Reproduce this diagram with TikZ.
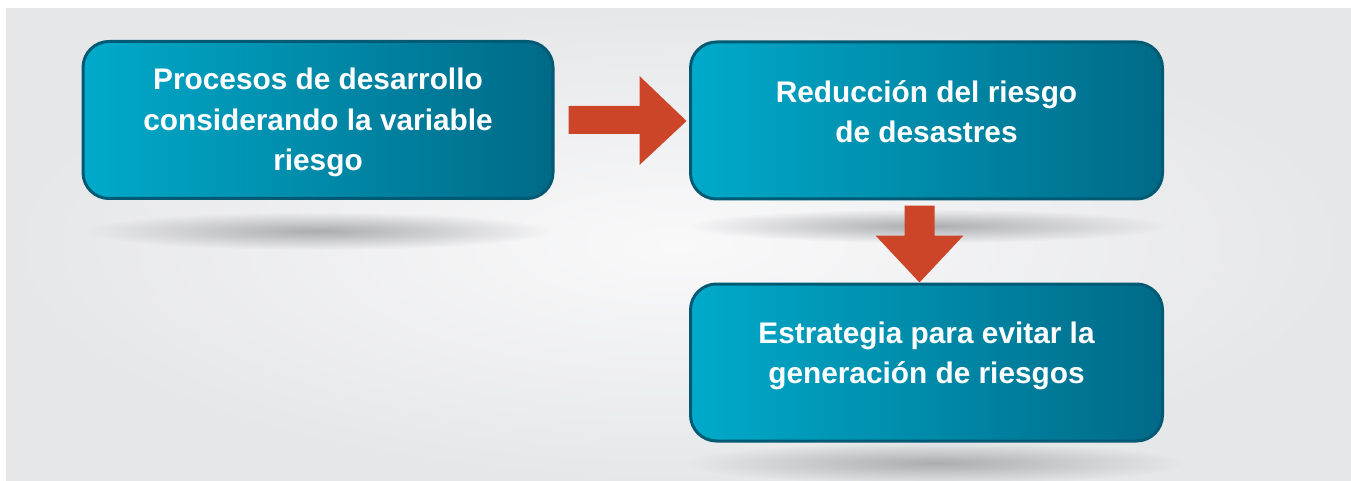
\documentclass[tikz,border=0pt]{standalone}
\usepackage{fontspec}
\setsansfont{Liberation Sans}
\usetikzlibrary{fadings,calc}
\definecolor{bgout}{RGB}{230,231,233}
\definecolor{bgin}{RGB}{249,249,250}
\definecolor{boxL}{RGB}{0,170,202}
\definecolor{boxR}{RGB}{0,106,136}
\definecolor{boxB}{RGB}{0,90,116}
\definecolor{arr}{RGB}{204,69,40}
\definecolor{shd}{RGB}{172,173,178}
\tikzfading[name=softout, inner color=transparent!0, outer color=transparent!100]
\tikzset{
  box/.style={draw=boxB, line width=3pt, rounded corners=26pt, left color=boxL, right color=boxR, shading angle=90, minimum width=470pt, minimum height=157pt, inner sep=0pt},
  boxtext/.style={text=white, font=\sffamily\bfseries\fontsize{29.8}{40.5}\selectfont, align=center, inner sep=0pt},
  shadowfill/.style={fill=shd, path fading=softout},
  arrowfill/.style={fill=arr}
}
\begin{document}
\begin{tikzpicture}[x=1pt,y=-1pt]
\useasboundingbox (0,0) rectangle (1351,481);
\fill[white] (0,0) rectangle (1351,481);
\shade[inner color=bgin, outer color=bgout] (6,9) rectangle (1351,481);
% shadows
\begin{scope}
\clip (6,9) rectangle (1351,481);
\fill[shadowfill] (318,231) ellipse [x radius=232, y radius=19];
\fill[shadowfill] (928,226) ellipse [x radius=240, y radius=17];
\fill[shadowfill] (935,463) ellipse [x radius=250, y radius=21];
\end{scope}
% boxes
\node[box] (b1) at (318,120) {};
\node[box, minimum width=472pt] (b2) at (926.5,120.5) {};
\node[box, minimum width=472pt] (b3) at (926.5,362.5) {};
% arrows
\fill[arrowfill] ($(b1.east)+(14,-14)$) -- ($(b1.east)+(85,-14)$) -- ($(b1.east)+(85,-44)$) -- ($(b1.east)+(132,1)$) -- ($(b1.east)+(85,45)$) -- ($(b1.east)+(85,14)$) -- ($(b1.east)+(14,14)$) -- cycle;
\fill[arrowfill] ($(b2.south)+(-22,5)$) -- ($(b2.south)+(8,5)$) -- ($(b2.south)+(8,35)$) -- ($(b2.south)+(37,35)$) -- ($(b2.south)+(-7,82)$) -- ($(b2.south)+(-51,35)$) -- ($(b2.south)+(-22,35)$) -- cycle;
% texts
\node[boxtext] (t1) at ($(b1.center)+(0,2.5)$) {Procesos de desarrollo\\considerando la variable\\riesgo};
\node[boxtext] (t2) at ($(b2.center)+(0,-9)$) {Reducción del riesgo\\de desastres};
\node[boxtext] (t3) at ($(b3.center)+(0,-6.5)$) {Estrategia para evitar la\\generación de riesgos};
\end{tikzpicture}
\end{document}
